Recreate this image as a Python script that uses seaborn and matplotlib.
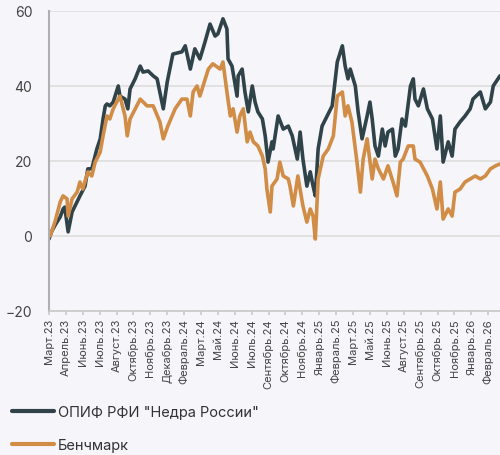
import pandas as pd
import seaborn as sns
from matplotlib import pyplot as plt

# trading-day index from the start of the chart, values in %
fund_day = [0, 5, 12, 20, 25, 28, 34, 41, 55, 64, 69, 76, 85, 91, 96, 100, 103, 108, 114, 123,
            126, 135, 140, 144, 153, 162, 167, 176, 185, 192, 203, 210, 220, 236, 242, 251, 259, 268, 277, 286,
            295, 300, 309, 316, 318, 325, 334, 336, 343, 348, 354, 361, 366, 371, 379, 384, 389, 396, 398, 407,
            416, 425, 432, 441, 446, 451, 458, 464, 469, 473, 478, 485, 494, 503, 512, 521, 526, 531, 535, 544,
            549, 556, 565, 570, 574, 579, 585, 592, 597, 602, 610, 615, 620, 627, 633, 642, 647, 650, 656, 665,
            672, 681, 689, 695, 700, 709, 716, 721, 730, 739, 748, 753, 766, 775, 784, 789, 801]
fund_val = [-0.8, 1.3, 3.2, 5.1, 7.2, 7.7, 1.1, 6.4, 10.7, 13.3, 17.9, 17.9, 23.2, 25.9, 31.2, 34.7, 35.2, 34.7, 35.7, 40.0,
            37.3, 36.5, 33.9, 39.2, 41.9, 45.3, 43.7, 44.0, 42.7, 41.9, 33.9, 41.1, 48.5, 49.1, 50.7, 44.5, 49.9, 47.2, 51.7, 56.5,
            53.3, 53.9, 57.9, 55.2, 47.2, 45.3, 37.3, 42.7, 44.5, 38.4, 33.1, 40.0, 35.7, 33.1, 31.2, 26.7, 19.7, 25.1, 23.2, 32.0,
            28.5, 29.3, 26.7, 20.5, 27.7, 20.5, 13.3, 17.1, 13.3, 10.7, 23.2, 29.3, 32.0, 34.7, 46.4, 50.7, 45.3, 41.9, 44.5, 40.0,
            33.1, 25.9, 32.0, 35.7, 31.2, 24.0, 21.3, 28.5, 24.0, 27.7, 28.5, 21.3, 23.2, 31.2, 29.3, 40.0, 41.9, 36.5, 34.7, 39.2,
            33.9, 31.2, 23.2, 32.0, 19.7, 25.1, 21.3, 28.5, 30.4, 32.0, 33.9, 36.5, 38.4, 33.9, 35.7, 40.0, 42.7]

bench_day = [2, 11, 20, 25, 32, 34, 41, 50, 55, 60, 69, 76, 82, 91, 96, 103, 108, 114, 123, 126,
             135, 139, 144, 162, 174, 185, 197, 203, 211, 224, 236, 245, 251, 256, 263, 268, 283, 291, 304, 309,
             316, 322, 327, 334, 339, 345, 352, 357, 363, 371, 379, 384, 387, 393, 396, 405, 410, 416, 425, 428,
             434, 442, 451, 458, 464, 469, 473, 478, 487, 496, 505, 512, 521, 526, 531, 538, 547, 553, 558, 565,
             574, 579, 585, 594, 602, 611, 618, 624, 629, 638, 647, 650, 659, 672, 681, 689, 695, 700, 709, 716,
             721, 730, 739, 748, 757, 766, 775, 784, 793, 801]
bench_val = [0.0, 4.0, 9.1, 10.7, 9.9, 5.3, 9.9, 11.7, 14.4, 12.5, 17.1, 16.0, 19.7, 22.4, 26.7, 32.0, 31.2, 33.9, 36.5, 37.3,
             32.0, 26.7, 31.2, 36.5, 34.7, 34.7, 30.4, 25.9, 29.3, 33.9, 36.5, 36.5, 32.0, 38.4, 40.0, 37.3, 44.5, 45.9, 44.5, 46.4,
             38.4, 32.0, 33.9, 27.7, 32.0, 33.9, 25.1, 27.7, 25.1, 24.0, 21.3, 17.9, 12.5, 6.4, 13.3, 15.2, 19.7, 16.0, 15.2, 13.3,
             8.0, 16.0, 8.0, 3.7, 7.2, 5.3, -0.8, 15.2, 21.3, 23.2, 26.7, 37.3, 38.4, 32.0, 34.7, 30.4, 19.7, 11.7, 20.5, 25.9,
             15.2, 20.5, 17.9, 15.2, 18.7, 14.4, 10.7, 19.7, 20.5, 24.0, 24.0, 20.5, 19.7, 16.0, 12.5, 7.2, 14.4, 4.5, 7.2, 5.3,
             11.7, 12.5, 14.4, 15.2, 16.0, 15.2, 16.0, 17.9, 18.7, 19.2]

tick_labels = ["Март.23", "Апрель.23", "Июнь.23", "Июль.23", "Август.23", "Октябрь.23", "Ноябрь.23",
               "Декабрь.23", "Февраль.24", "Март.24", "Май.24", "Июнь.24", "Июль.24", "Сентябрь.24",
               "Октябрь.24", "Ноябрь.24", "Январь.25", "Февраль.25", "Март.25", "Май.25", "Июнь.25",
               "Август.25", "Сентябрь.25", "Октябрь.25", "Ноябрь.25", "Январь.26", "Февраль.26"]
tick_step = 30  # trading days between labels

fund_name = 'ОПИФ РФИ "Недра России"'
bench_name = "Бенчмарк"

df = pd.concat([
    pd.DataFrame({"day": fund_day, "value": fund_val, "series": fund_name}),
    pd.DataFrame({"day": bench_day, "value": bench_val, "series": bench_name}),
])

bg = "#f5f5fa"
sns.set_theme(style="whitegrid")
plt.rcParams["font.family"] = ["Inter", "DejaVu Sans"]

fig = plt.figure(figsize=(5, 4.56), dpi=100, facecolor=bg)
ax = fig.add_axes([0.098, 0.3158, 0.902, 0.658])
ax.set_facecolor(bg)

sns.lineplot(data=df, x="day", y="value", hue="series", sort=False, estimator=None,
             palette={fund_name: "#2f4349", bench_name: "#d18c46"},
             linewidth=2.6, ax=ax, legend=False)

ax.set_ylim(-20, 60)
ax.set_yticks([-20, 0, 20, 40, 60])
ax.set_xlim(0, 801)
ax.set_xticks([i * tick_step for i in range(len(tick_labels))])
ax.set_xticklabels(tick_labels, rotation=90, fontsize=8, color="#444444")
ax.tick_params(axis="y", labelsize=10, colors="#444444", length=0, pad=12)
ax.tick_params(axis="x", length=3, color="#cccccc", pad=2, bottom=True)
ax.set_xlabel("")
ax.set_ylabel("")

ax.grid(axis="x", visible=False)
ax.grid(axis="y", color="#dddddd", linewidth=1.2)
for s in ["top", "right"]:
    ax.spines[s].set_visible(False)
ax.spines["left"].set_color("#b0b0b0")
ax.spines["left"].set_linewidth(1.5)
ax.spines["bottom"].set_color("#c8c8c8")
ax.spines["bottom"].set_linewidth(1.2)

handles = [plt.Line2D([], [], color="#2f4349", linewidth=3),
           plt.Line2D([], [], color="#d18c46", linewidth=3)]
fig.legend(handles, [fund_name, bench_name], loc="upper left", bbox_to_anchor=(0.012, 0.122),
           frameon=False, fontsize=10.5, handlelength=2.9, handletextpad=0.25,
           labelspacing=1.3, labelcolor="#333333", borderaxespad=0)

fig.savefig("out.png", dpi=100, facecolor=bg)
